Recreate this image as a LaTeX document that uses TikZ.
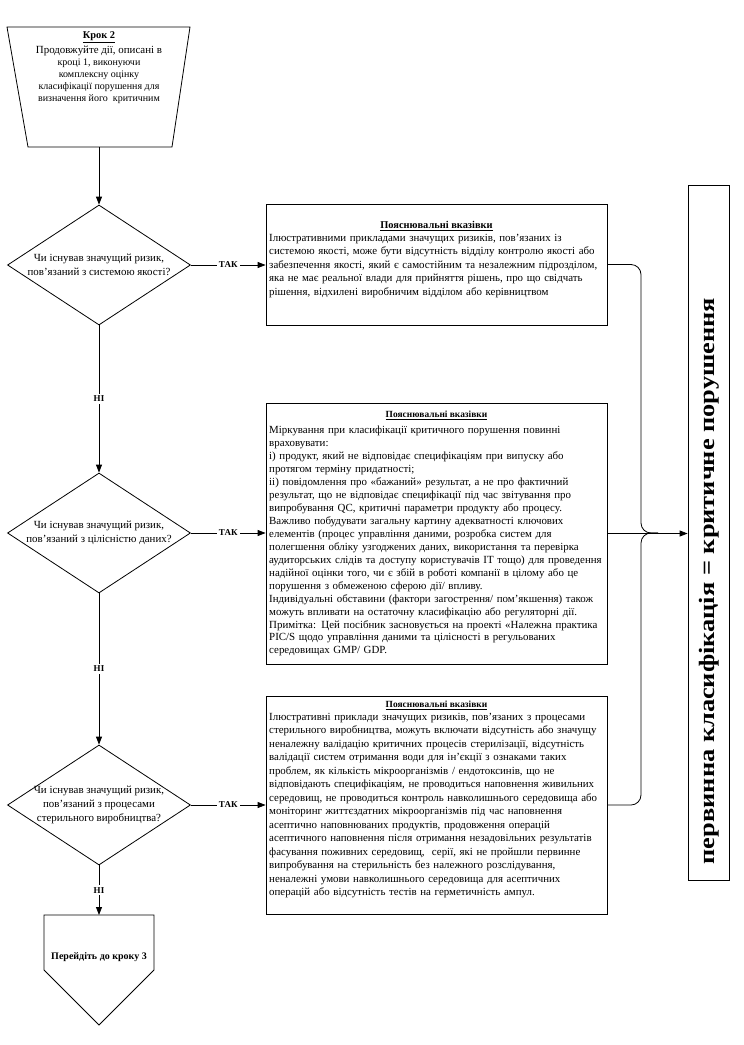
\documentclass[tikz,border=0pt]{standalone}
\usepackage{fontspec}
\setmainfont{Liberation Serif}
\usetikzlibrary{shapes.geometric,arrows.meta}
\begin{document}
\begin{tikzpicture}[x=1pt,y=-1pt,
  line/.style={draw=black,line width=0.8pt},
  arr/.style={line,-{Triangle[length=8pt,width=6pt]}},
  dia/.style={diamond,draw,line width=0.8pt,minimum width=183pt,minimum height=120pt,inner sep=0pt},
  qtext/.style={align=center,font=\fontsize{10.9}{14}\selectfont,inner sep=0pt},
  frame/.style={draw,line width=0.8pt,minimum width=341pt,inner sep=0pt},
  head/.style={font=\bfseries\fontsize{9.4}{11}\selectfont,inner sep=0pt},
  btext/.style={anchor=north west,align=left,text width=340pt,inner sep=0pt},
  lab/.style={font=\bfseries\fontsize{9}{10}\selectfont,fill=white,inner sep=2pt}
]
\useasboundingbox (0,0) rectangle (744,1045);

% Step 2 trapezoid
\draw[line] (7,27) -- (190,27) -- (172,147) -- (28,147) -- cycle;
\coordinate (trapbot) at (99,147);
\node[align=center,inner sep=0pt,anchor=north] (t2) at (99,31)
  {\bfseries\fontsize{10.4}{12}\selectfont\underline{Крок 2}\\[3pt]
   \fontsize{10.9}{13.9}\selectfont
   Продовжуйте дії, описані в\\ кроці 1, виконуючи\\ комплексну оцінку\\
   класифікації порушення для\\ визначення його\ \ критичним};

% Diamonds
\node[dia] (d1) at (99,265) {};
\node[qtext] (q1) at (d1) {Чи існував значущий ризик,\\ пов’язаний з системою якості?};
\node[dia] (d2) at (99,533) {};
\node[qtext] (q2) at (d2) {Чи існував значущий ризик,\\ пов’язаний з цілісністю даних?};
\node[dia] (d3) at (99,805) {};
\node[qtext] (q3) at (d3) {Чи існував значущий ризик,\\ пов’язаний з процесами\\ стерильного виробництва?};

% Pentagon
\draw[line] (44,915) -- (154,915) -- (154,970) -- (99,1025) -- (44,970) -- cycle;
\coordinate (pentop) at (99,915);
\node[font=\bfseries\fontsize{10}{12}\selectfont,inner sep=0pt] (p3) at (99,957) {Перейдіть до кроку 3};

% Box 1
\node[frame,minimum height=121pt] (b1) at (436.5,264.5) {};
\node[head,font=\bfseries\fontsize{10.4}{12}\selectfont] (h1) at (436.5,226) {\underline{Пояснювальні вказівки}};
\node[btext,font=\fontsize{10.9}{13.5}\selectfont] (x1) at (269,234) {Ілюстративними прикладами значущих ризиків, пов’язаних із\\
системою якості, може бути відсутність відділу контролю якості або\\
забезпечення якості, який є самостійним та незалежним підрозділом,\\
яка не має реальної влади для прийняття рішень, про що свідчать\\
рішення, відхилені виробничим відділом або керівництвом};

% Box 2
\node[frame,minimum height=261pt] (b2) at (436.5,533.5) {};
\node[head] (h2) at (436.5,415) {\underline{Пояснювальні вказівки}};
\node[btext,font=\fontsize{10.9}{12.95}\selectfont] (x2) at (269,426) {Міркування при класифікації критичного порушення повинні\\
враховувати:\\
і) продукт, який не відповідає специфікаціям при випуску або\\
протягом терміну придатності;\\
іі) повідомлення про «бажаний» результат, а не про фактичний\\
результат, що не відповідає специфікації під час звітування про\\
випробування QC, критичні параметри продукту або процесу.\\
Важливо побудувати загальну картину адекватності ключових\\
елементів (процес управління даними, розробка систем для\\
полегшення обліку узгоджених даних, використання та перевірка\\
аудиторських слідів та доступу користувачів IT тощо) для проведення\\
надійної оцінки того, чи є збій в роботі компанії в цілому або це\\
порушення з обмеженою сферою дії/ впливу.\\
Індивідуальні обставини (фактори загострення/ пом’якшення) також\\
можуть впливати на остаточну класифікацію або регуляторні дії.\\
Примітка: Цей посібник засновується на проекті «Належна практика\\
PIC/S щодо управління даними та цілісності в регульованих\\
середовищах GMP/ GDP.};

% Box 3
\node[frame,minimum height=218pt] (b3) at (436.5,805) {};
\node[head] (h3) at (436.5,705) {\underline{Пояснювальні вказівки}};
\node[btext,font=\fontsize{10.9}{13.5}\selectfont] (x3) at (269,713) {Ілюстративні приклади значущих ризиків, пов’язаних з процесами\\
стерильного виробництва, можуть включати відсутність або значущу\\
неналежну валідацію критичних процесів стерилізації, відсутність\\
валідації систем отримання води для ін’єкції з ознаками таких\\
проблем, як кількість мікроорганізмів / ендотоксинів, що не\\
відповідають специфікаціям, не проводиться наповнення живильних\\
середовищ, не проводиться контроль навколишнього середовища або\\
моніторинг життєздатних мікроорганізмів під час наповнення\\
асептично наповнюваних продуктів, продовження операцій\\
асептичного наповнення після отримання незадовільних результатів\\
фасування поживних середовищ,\ \ серії, які не пройшли первинне\\
випробування на стерильність без належного розслідування,\\
неналежні умови навколишнього середовища для асептичних\\
операцій або відсутність тестів на герметичність ампул.};

% Right box
\node[draw,line width=0.8pt,minimum width=41pt,minimum height=695pt,inner sep=0pt] (rb) at (708.5,532.5) {};
\node[rotate=90,font=\bfseries\fontsize{22}{24}\selectfont,inner sep=0pt] (rt) at (709,581) {\scalebox{1.2}[1]{первинна класифікація = критичне порушення}};

% Connectors
\draw[arr] (trapbot) -- (d1.north);
\draw[arr] (d1.south) -- node[lab] (n1) {НІ} (d2.north);
\draw[arr] (d2.south) -- node[lab] (n2) {НІ} (d3.north);
\draw[arr] (d3.south) -- node[lab] (n3) {НІ} (pentop);
\draw[arr] (d1.east) -- node[lab] (y1) {ТАК} (d1.east -| b1.west);
\draw[arr] (d2.east) -- node[lab] (y2) {ТАК} (d2.east -| b2.west);
\draw[arr] (d3.east) -- node[lab] (y3) {ТАК} (d3.east -| b3.west);

\coordinate (brx) at (641,533);
\coordinate (tip) at (658,533);
\draw[line,rounded corners=10pt] (b1.east) -- (b1.east -| brx) -- (brx |- tip) -- (tip);
\draw[line,rounded corners=10pt] (d3.east -| b3.east) -- (d3.east -| brx) -- (brx |- tip) -- (tip);
\draw[arr] (b2.east) -- (b2.east -| rb.west);
\end{tikzpicture}
\end{document}
